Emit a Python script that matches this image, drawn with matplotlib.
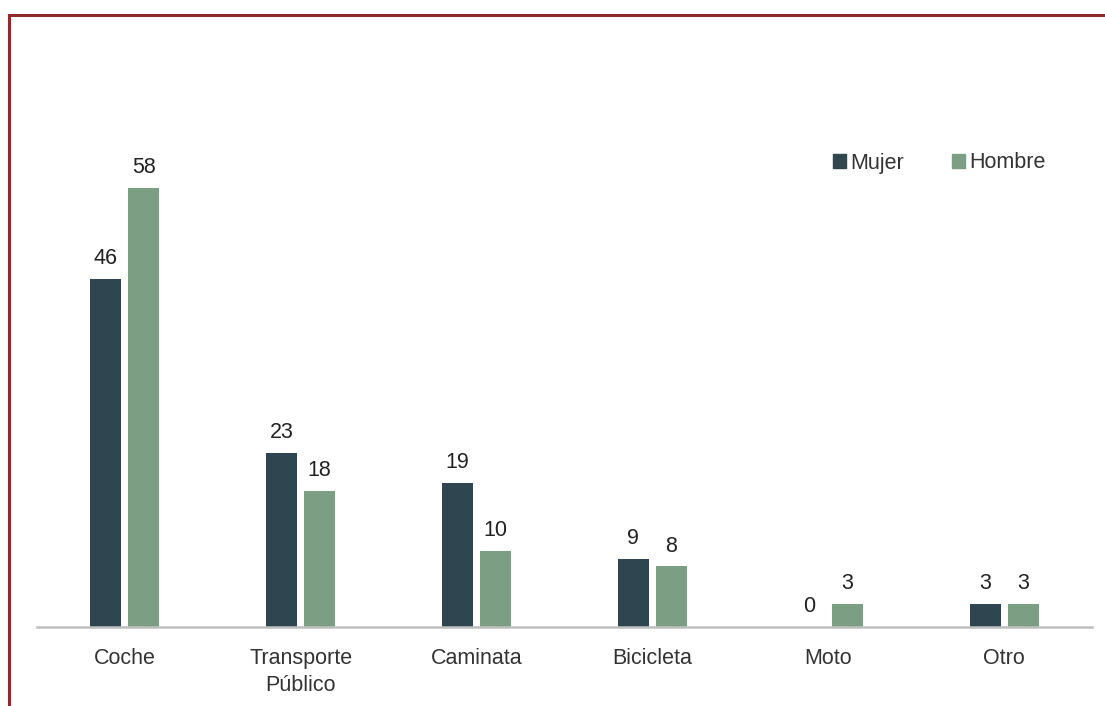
import matplotlib.pyplot as plt
import numpy as np
from matplotlib.lines import Line2D
from matplotlib.patches import Patch

categories = ["Coche", "Transporte\nPúblico", "Caminata", "Bicicleta", "Moto", "Otro"]
mujer = [46, 23, 19, 9, 0, 3]
hombre = [58, 18, 10, 8, 3, 3]

c_m = "#2F4650"
c_h = "#7C9E83"
W, H = 1105, 706
fig = plt.figure(figsize=(W/100, H/100), dpi=100)
plt.rcParams['font.family'] = ['Liberation Sans', 'DejaVu Sans']
FS = 15.5

ax = fig.add_axes([37/W, (H-627)/H, (1092-37)/W, (627-59.4)/H])
x = np.arange(len(categories))
bw = 31/176
off = 19/176
b1 = ax.bar(x - off, mujer, bw, color=c_m, zorder=2)
b2 = ax.bar(x + off, hombre, bw, color=c_h, zorder=2)
for bars, vals in ((b1, mujer), (b2, hombre)):
    for r, v in zip(bars, vals):
        ax.text(r.get_x() + r.get_width()/2, v + 1.3, str(v), ha='center', va='bottom',
                fontsize=FS, color='#222222')
ax.set_xlim(-0.5, len(categories) - 0.5)
ax.set_ylim(0, 75)
ax.set_xticks(x)
ax.set_xticklabels(categories, fontsize=FS, color='#333333', linespacing=1.4)
ax.tick_params(axis='x', length=0, pad=15)
ax.set_yticks([])
for s in ('top', 'right', 'left'):
    ax.spines[s].set_visible(False)
ax.spines['bottom'].set_color('#BFBFBF')
ax.spines['bottom'].set_linewidth(1.8)
ax.spines['bottom'].set_zorder(3)

handles = [Patch(color=c_m, label='Mujer'), Patch(color=c_h, label='Hombre')]
fig.legend(handles=handles, loc='center left', bbox_to_anchor=(814/W, 1 - 163/H), ncol=2,
           frameon=False, fontsize=FS, handlelength=0.6, handleheight=0.6,
           handletextpad=0.2, columnspacing=2.2, labelcolor='#333333')

red = "#8E2B2B"
fig.add_artist(Line2D([8.5/W, 1], [1 - 15/H, 1 - 15/H], color=red, lw=2.2, transform=fig.transFigure))
fig.add_artist(Line2D([9/W, 9/W], [0, 1 - 15/H], color=red, lw=2.2, transform=fig.transFigure))

fig.savefig("out.png", dpi=100)
